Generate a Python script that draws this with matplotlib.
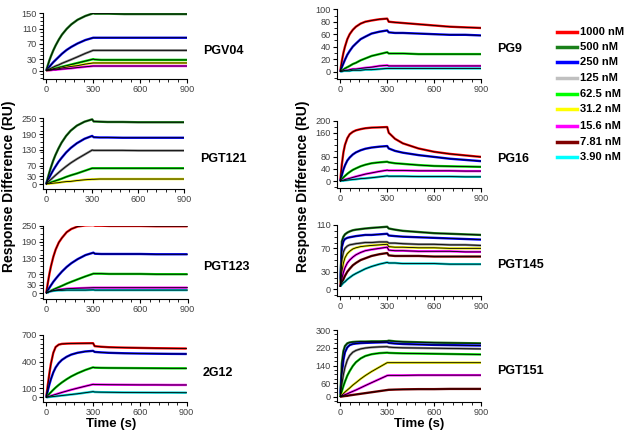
import numpy as np
import matplotlib
matplotlib.use("Agg")
import matplotlib.pyplot as plt
from matplotlib.ticker import FixedLocator, MultipleLocator

plt.rcParams['font.family'] = ['Liberation Sans', 'DejaVu Sans']

# time points (s) shared by every sensorgram
t = [0, 10, 20, 30, 45, 60, 80, 100, 130, 160, 200, 250, 300, 310, 350, 400, 500, 600, 700, 800, 900]

conc_labels = ["1000 nM", "500 nM", "250 nM", "125 nM", "62.5 nM", "31.2 nM", "15.6 nM", "7.81 nM", "3.90 nM"]
conc_colors = ["#ff0000", "#1a801a", "#0000ff", "#c0c0c0", "#00ff00", "#ffff00", "#ff00ff", "#800000", "#00ffff"]
# darker grey for the 125 nM trace inside the plots
trace_colors = ["#ff0000", "#1a801a", "#0000ff", "#808080", "#00e000", "#e8e800", "#ff00ff", "#800000", "#00d0d0"]

# PGV04
pgv04_500 = [0, 14, 27, 38, 53, 66, 81, 94, 109, 121, 133, 143, 150, 149, 149, 149, 148, 148, 148, 148, 148]
pgv04_250 = [0, 5, 10, 15, 22, 28, 36, 44, 54, 62, 71, 80, 86, 86, 86, 86, 86, 86, 86, 86, 86]
pgv04_125 = [0, 2, 4, 6, 9, 12, 15, 19, 24, 29, 36, 45, 53, 53, 53, 53, 53, 53, 53, 53, 53]
pgv04_62 = [0, 1, 2, 3, 5, 6, 8, 10, 13, 16, 20, 25, 30, 29, 28, 28, 28, 28, 28, 28, 28]
pgv04_31 = [0, 1, 1, 2, 3, 4, 5, 7, 9, 11, 13, 17, 20, 20, 20, 20, 20, 20, 20, 20, 20]
pgv04_15 = [0, 1, 1, 1, 2, 2, 3, 4, 5, 6, 8, 10, 12, 12, 12, 12, 12, 12, 12, 12, 12]

# PGT121
pgt121_500 = [0, 22, 43, 62, 88, 110, 135, 157, 183, 203, 222, 237, 246, 238, 237, 236, 236, 235, 235, 235, 235]
pgt121_250 = [0, 13, 25, 36, 52, 66, 84, 99, 120, 137, 155, 172, 183, 178, 177, 177, 176, 176, 176, 176, 176]
pgt121_125 = [0, 6, 12, 17, 25, 33, 43, 53, 67, 80, 95, 112, 129, 128, 128, 128, 128, 127, 127, 127, 127]
pgt121_62 = [0, 2, 4, 6, 9, 12, 16, 20, 27, 33, 40, 50, 60, 60, 60, 60, 60, 60, 60, 60, 60]
pgt121_31 = [0, 1, 1, 2, 3, 4, 5, 7, 9, 10, 13, 16, 18, 18, 19, 19, 19, 19, 19, 19, 19]

# PGT123
pgt123_1000 = [0, 38, 72, 100, 135, 162, 188, 205, 226, 238, 247, 251, 252, 250, 250, 249, 249, 249, 248, 248, 248]
pgt123_250 = [0, 10, 20, 29, 42, 53, 67, 80, 97, 111, 126, 141, 150, 146, 145, 145, 145, 145, 144, 144, 144]
pgt123_62 = [0, 3, 6, 9, 13, 17, 22, 27, 35, 42, 51, 62, 72, 72, 72, 71, 71, 71, 70, 70, 70]
pgt123_15 = [0, 3, 5, 7, 9, 11, 13, 14, 16, 17, 18, 19, 20, 20, 20, 20, 20, 20, 20, 20, 20]
pgt123_3 = [0, 3, 5, 7, 8, 9, 10, 10, 11, 11, 11, 11, 12, 11, 11, 11, 11, 11, 11, 11, 11]

# 2G12
g12_1000 = [0, 140, 270, 380, 500, 565, 592, 600, 603, 605, 606, 607, 608, 575, 568, 563, 558, 555, 552, 550, 548]
g12_250 = [0, 75, 145, 205, 280, 335, 385, 420, 455, 480, 500, 515, 522, 510, 505, 500, 495, 492, 490, 488, 487]
g12_62 = [0, 20, 40, 58, 85, 110, 140, 167, 203, 235, 270, 307, 337, 333, 331, 330, 329, 328, 327, 326, 326]
g12_15 = [0, 6, 12, 17, 25, 33, 44, 55, 70, 85, 103, 125, 146, 144, 143, 142, 141, 140, 140, 139, 139]
g12_3 = [0, 2, 4, 6, 9, 12, 16, 20, 26, 32, 40, 52, 64, 60, 58, 57, 55, 54, 53, 53, 52]

# PG9
pg9_1000 = [0, 17, 30, 40, 52, 60, 67, 72, 77, 80, 82, 84, 85, 80, 79, 78, 76, 74, 72, 71, 70]
pg9_250 = [0, 7, 13, 19, 27, 33, 40, 45, 52, 56, 61, 64, 66, 63, 62, 62, 61, 60, 59, 59, 58]
pg9_62 = [0, 2, 3, 5, 7, 9, 12, 14, 18, 21, 25, 28, 31, 29, 29, 29, 28, 28, 28, 28, 28]
pg9_15 = [0, 1, 1, 2, 2, 3, 4, 4, 5, 6, 7, 9, 10, 9, 9, 9, 9, 9, 9, 9, 9]
pg9_3 = [0, 0, 1, 1, 1, 1, 2, 2, 2, 3, 3, 4, 5, 5, 5, 5, 5, 5, 5, 5, 5]

# PG16
pg16_1000 = [0, 55, 95, 120, 142, 155, 163, 168, 172, 175, 177, 178, 179, 160, 140, 125, 108, 97, 90, 85, 80]
pg16_250 = [0, 20, 38, 52, 68, 78, 88, 95, 102, 107, 111, 114, 116, 108, 100, 94, 86, 80, 74, 70, 66]
pg16_62 = [0, 6, 12, 17, 24, 30, 37, 42, 49, 54, 59, 62, 64, 62, 59, 57, 53, 50, 49, 48, 47]
pg16_15 = [0, 2, 3, 5, 7, 9, 12, 15, 19, 23, 27, 32, 36, 35, 35, 35, 34, 34, 34, 33, 33]
pg16_3 = [0, 1, 1, 2, 3, 4, 5, 6, 8, 9, 11, 14, 17, 16, 16, 16, 15, 15, 15, 14, 14]

# PGT145
pgt145_500 = [5, 82, 90, 94, 97, 99, 101, 102, 103, 104, 105, 106, 107, 104, 102, 100, 98, 96, 95, 94, 93]
pgt145_250 = [5, 72, 82, 86, 88, 89, 90, 91, 92, 93, 93, 94, 95, 92, 91, 90, 89, 88, 87, 86, 85]
pgt145_125 = [5, 50, 64, 70, 74, 76, 77, 78, 79, 80, 80, 81, 81, 79, 79, 78, 77, 77, 76, 76, 75]
pgt145_31 = [5, 30, 45, 54, 61, 65, 69, 71, 73, 74, 75, 76, 77, 73, 72, 72, 71, 71, 70, 70, 70]
pgt145_15 = [5, 18, 29, 37, 45, 50, 55, 59, 63, 66, 68, 70, 72, 67, 66, 66, 65, 65, 65, 64, 64]
pgt145_7 = [5, 11, 17, 23, 30, 35, 41, 45, 50, 53, 57, 60, 62, 58, 57, 57, 57, 56, 56, 56, 56]
pgt145_3 = [5, 8, 11, 13, 17, 20, 24, 27, 31, 35, 39, 43, 46, 45, 45, 44, 44, 44, 43, 43, 43]

# PGT151
pgt151_500 = [0, 150, 205, 228, 240, 244, 246, 247, 248, 248, 249, 249, 250, 252, 249, 247, 245, 243, 242, 241, 240]
pgt151_250 = [0, 100, 165, 200, 222, 232, 237, 239, 241, 242, 243, 244, 245, 242, 239, 237, 235, 233, 232, 231, 230]
pgt151_125 = [0, 55, 100, 132, 165, 185, 200, 208, 215, 219, 222, 224, 225, 223, 221, 220, 219, 218, 217, 216, 215]
pgt151_62 = [0, 25, 48, 68, 95, 115, 138, 155, 172, 183, 191, 196, 198, 197, 196, 195, 194, 193, 192, 191, 190]
pgt151_31 = [0, 7, 14, 21, 30, 39, 52, 63, 80, 95, 113, 133, 153, 153, 153, 153, 153, 153, 153, 153, 153]
pgt151_15 = [0, 3, 6, 9, 13, 18, 24, 30, 40, 50, 63, 79, 95, 96, 96, 96, 97, 97, 97, 97, 97]
pgt151_7 = [0, 1, 2, 3, 4, 6, 8, 10, 13, 16, 20, 25, 30, 31, 32, 33, 34, 34, 35, 35, 35]

# name, traces (conc index, values), y ticks, y minor step, ylim, axes box in pixels (left, top, right, bottom)
panels = [
    ("PGV04", [(1, pgv04_500), (2, pgv04_250), (3, pgv04_125), (4, pgv04_62), (5, pgv04_31), (6, pgv04_15)],
     [0, 30, 70, 110, 150], 10, (-22, 150), (43, 13.3, 187, 79)),
    ("PGT121", [(1, pgt121_500), (2, pgt121_250), (3, pgt121_125), (4, pgt121_62), (5, pgt121_31)],
     [0, 30, 70, 130, 190, 250], 20, (-19, 250), (43, 118.3, 184, 189)),
    ("PGT123", [(0, pgt123_1000), (2, pgt123_250), (4, pgt123_62), (6, pgt123_15), (8, pgt123_3)],
     [0, 30, 70, 130, 190, 250], 20, (-22, 250), (43, 225.7, 187.5, 299)),
    ("2G12", [(0, g12_1000), (2, g12_250), (4, g12_62), (6, g12_15), (8, g12_3)],
     [0, 100, 400, 700], 50, (-49, 700), (43, 335, 186.7, 401.7)),
    ("PG9", [(0, pg9_1000), (2, pg9_250), (4, pg9_62), (6, pg9_15), (8, pg9_3)],
     [0, 20, 40, 60, 80, 100], 10, (-12, 100), (337, 9.3, 481, 79)),
    ("PG16", [(0, pg16_1000), (2, pg16_250), (4, pg16_62), (6, pg16_15), (8, pg16_3)],
     [0, 40, 80, 160, 200], 20, (-23, 200), (337, 120.7, 481, 188)),
    ("PGT145", [(1, pgt145_500), (2, pgt145_250), (3, pgt145_125), (5, pgt145_31), (6, pgt145_15),
                (7, pgt145_7), (8, pgt145_3)],
     [0, 30, 70, 110], 10, (-11.5, 110), (337, 225, 481, 296)),
    ("PGT151", [(1, pgt151_500), (2, pgt151_250), (3, pgt151_125), (4, pgt151_62), (5, pgt151_31),
                (6, pgt151_15), (7, pgt151_7)],
     [0, 60, 140, 220, 300], 20, (-22.5, 300), (337, 330, 481, 401.7)),
]

W, H = 629, 437
fig = plt.figure(figsize=(W / 100, H / 100), dpi=100)

for name, traces, yticks, ystep, ylim, box in panels:
    l, tp, r, b = box
    ax = fig.add_axes([l / W, 1 - b / H, (r - l) / W, (b - tp) / H])
    for ci, vals in traces:
        ax.plot(t, vals, color=trace_colors[ci], lw=1.7, solid_capstyle='butt')
    for ci, vals in traces:
        ax.plot(t, vals, color='black', lw=0.6)
    ax.set_xlim(-21, 900)
    ax.set_ylim(*ylim)
    ax.spines['top'].set_visible(False)
    ax.spines['right'].set_visible(False)
    ax.spines['left'].set_linewidth(0.8)
    ax.spines['bottom'].set_linewidth(0.8)
    ax.xaxis.set_major_locator(FixedLocator([0, 300, 600, 900]))
    ax.xaxis.set_minor_locator(MultipleLocator(60))
    ax.yaxis.set_major_locator(FixedLocator(yticks))
    ax.yaxis.set_minor_locator(MultipleLocator(ystep))
    ax.tick_params(which='major', direction='out', length=3, width=0.8, labelsize=6.6,
                   labelcolor='#404040', pad=1.5)
    ax.tick_params(which='minor', direction='out', length=2, width=0.6)
    ax.set_facecolor('none')
    # panel name to the right
    ax_mid = 1 - ((tp + b) / 2 + 5) / H
    fig.text((r + 16) / W, ax_mid, name, fontsize=9, fontweight='bold', va='center', ha='left')

# axis titles
fig.text(9 / W, 1 - 186 / H, "Response Difference (RU)", rotation=90, fontsize=10,
         fontweight='bold', ha='center', va='center')
fig.text(303 / W, 1 - 186 / H, "Response Difference (RU)", rotation=90, fontsize=10,
         fontweight='bold', ha='center', va='center')
fig.text(111 / W, 1 - 424 / H, "Time (s)", fontsize=9.5, fontweight='bold', ha='center', va='center')
fig.text(419 / W, 1 - 424 / H, "Time (s)", fontsize=9.5, fontweight='bold', ha='center', va='center')

# legend
leg_y = [31.7, 46.7, 62.3, 78.3, 94.3, 109.3, 126, 141.7, 156.7]
for lab, col, yy in zip(conc_labels, conc_colors, leg_y):
    fig.add_artist(plt.Line2D([557 / W, 577 / W], [1 - yy / H, 1 - yy / H], color=col, lw=2.5,
                              transform=fig.transFigure))
    fig.text(580 / W, 1 - yy / H, lab, fontsize=8, fontweight='bold', ha='left', va='center')

fig.savefig("out.png", dpi=100)
